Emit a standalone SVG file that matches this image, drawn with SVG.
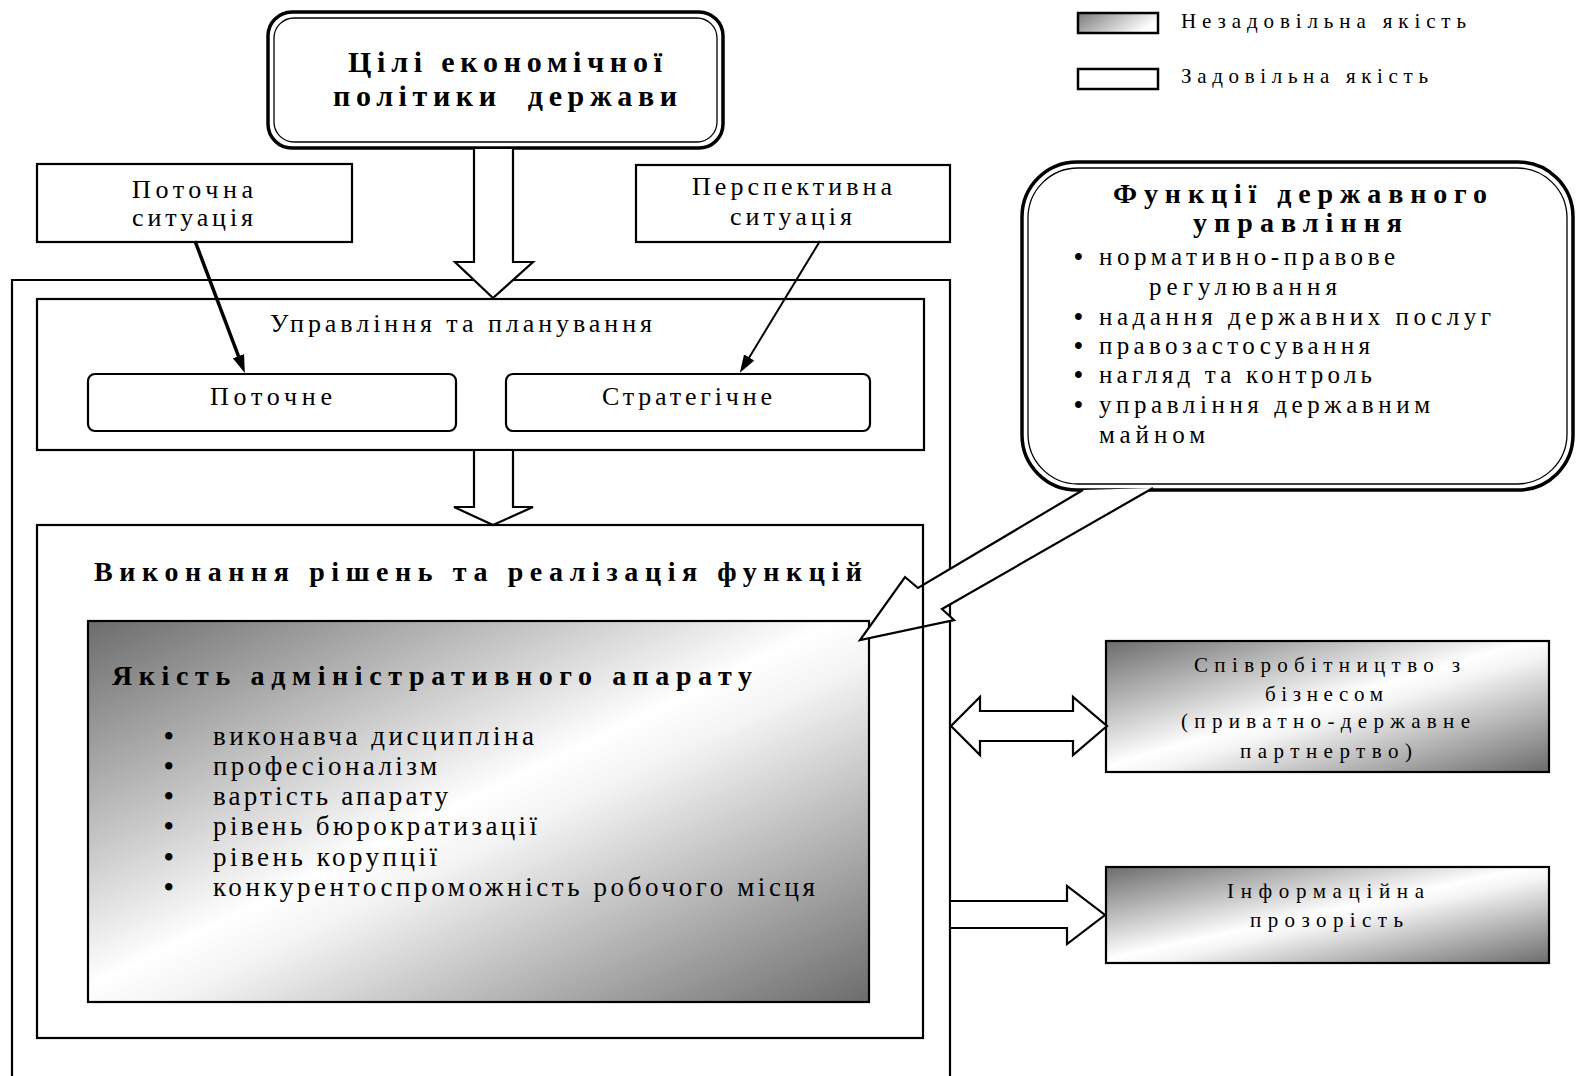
<svg xmlns="http://www.w3.org/2000/svg" width="1577" height="1076" viewBox="0 0 1577 1076">
<defs>
<style>
.t{font-family:"Liberation Serif","Times New Roman",serif;font-size:25px;fill:#000}
.b{font-weight:bold}
.s21{font-size:21px}
.s26{font-size:26px}
.s27{font-size:27px}
.s28{font-size:28px}
.s30{font-size:30px}
.bul{font-weight:bold}
.box{fill:#fff;stroke:#000;stroke-width:2.2}
.nofill{fill:none;stroke:#000;stroke-width:2.2}
.gbox{fill:url(#gq);stroke:#000;stroke-width:2.2}
.dblo{fill:#fff;stroke:#000;stroke-width:3.5}
.dbli{fill:none;stroke:#000;stroke-width:1.3}
.arr{fill:#fff;stroke:#000;stroke-width:2.2;stroke-linejoin:miter}
</style>
<linearGradient id="gq" x1="0" y1="0" x2="1" y2="1">
<stop offset="0" stop-color="#6c6c6c"/>
<stop offset="0.48" stop-color="#ffffff"/>
<stop offset="0.55" stop-color="#f4f4f4"/>
<stop offset="1" stop-color="#6c6c6c"/>
</linearGradient>
<linearGradient id="gl" x1="0" y1="0" x2="1" y2="0.4">
<stop offset="0" stop-color="#7a7a7a"/>
<stop offset="1" stop-color="#ffffff"/>
</linearGradient>
<marker id="ah" viewBox="0 0 18 12" refX="10" refY="6" markerWidth="18" markerHeight="12" markerUnits="userSpaceOnUse" orient="auto">
<path d="M0,0 L18,6 L0,12 Z" fill="#000"/>
</marker>
</defs>

<g id="legend">
<rect x="1078" y="13" width="80" height="20" fill="url(#gl)" stroke="#000" stroke-width="2.5"/>
<text class="t s21" x="1181" y="28" textLength="285" lengthAdjust="spacing">Незадовільна якість</text>
<rect x="1078" y="69" width="80" height="20" fill="#fff" stroke="#000" stroke-width="2.5"/>
<text class="t s21" x="1181" y="83" textLength="247" lengthAdjust="spacing">Задовільна якість</text>
</g>

<g id="outer-frame">
<path class="nofill" d="M12,1080 L12,280 L950,280 L950,1080"/>
</g>

<g id="management">
<rect class="box" x="37" y="299" width="887" height="151"/>
<text class="t s26" x="270" y="332" textLength="382" lengthAdjust="spacing">Управління та планування</text>
</g>

<g id="current">
<rect class="box" x="88" y="374" width="368" height="57" rx="7"/>
<text class="t s26" x="210" y="405" textLength="122" lengthAdjust="spacing">Поточне</text>
</g>

<g id="strategic">
<rect class="box" x="506" y="374" width="364" height="57" rx="7"/>
<text class="t s26" x="602" y="405" textLength="170" lengthAdjust="spacing">Стратегічне</text>
</g>

<g id="current-situation">
<rect class="box" x="37" y="164" width="315" height="78"/>
<text class="t s26" x="132" y="198" textLength="121" lengthAdjust="spacing">Поточна</text>
<text class="t s26" x="132" y="226" textLength="121" lengthAdjust="spacing">ситуація</text>
</g>

<g id="perspective-situation">
<rect class="box" x="636" y="165" width="314" height="77"/>
<text class="t s26" x="692" y="195" textLength="200" lengthAdjust="spacing">Перспективна</text>
<text class="t s26" x="730" y="225" textLength="122" lengthAdjust="spacing">ситуація</text>
</g>

<g id="goals">
<rect class="dblo" x="268" y="12" width="455" height="136" rx="24"/>
<rect class="dbli" x="274" y="18" width="443" height="124" rx="20"/>
<text class="t b s30" x="348" y="72" textLength="314" lengthAdjust="spacing">Цілі економічної</text>
<text class="t b s30" x="333" y="106" textLength="344" lengthAdjust="spacing" style="white-space:pre">політики  держави</text>
</g>

<g id="functions">
<rect class="dblo" x="1022" y="162" width="551" height="328" rx="55"/>
<rect class="dbli" x="1028" y="168" width="539" height="316" rx="50"/>
<text class="t b s28" x="1113" y="203" textLength="374" lengthAdjust="spacing">Функції державного</text>
<text class="t b s28" x="1193" y="232" textLength="209" lengthAdjust="spacing">управління</text>
<text class="t bul" x="1074" y="265">•</text>
<text class="t" x="1099" y="265" textLength="296" lengthAdjust="spacing">нормативно-правове</text>
<text class="t" x="1149" y="295" textLength="188" lengthAdjust="spacing">регулювання</text>
<text class="t bul" x="1074" y="325">•</text>
<text class="t" x="1099" y="325" textLength="392" lengthAdjust="spacing">надання державних послуг</text>
<text class="t bul" x="1074" y="354">•</text>
<text class="t" x="1099" y="354" textLength="271" lengthAdjust="spacing">правозастосування</text>
<text class="t bul" x="1074" y="383">•</text>
<text class="t" x="1099" y="383" textLength="273" lengthAdjust="spacing">нагляд та контроль</text>
<text class="t bul" x="1074" y="413">•</text>
<text class="t" x="1099" y="413" textLength="331" lengthAdjust="spacing">управління державним</text>
<text class="t" x="1099" y="443" textLength="106" lengthAdjust="spacing">майном</text>
</g>

<g id="quality">
<rect class="gbox" x="88" y="621" width="781" height="381"/>
<text class="t b s28" x="112" y="685" textLength="640" lengthAdjust="spacing">Якість адміністративного апарату</text>
<text class="t s27 bul" x="164" y="745">•</text>
<text class="t s27" x="213" y="745" textLength="321" lengthAdjust="spacing">виконавча дисципліна</text>
<text class="t s27 bul" x="164" y="775">•</text>
<text class="t s27" x="213" y="775" textLength="224" lengthAdjust="spacing">професіоналізм</text>
<text class="t s27 bul" x="164" y="805">•</text>
<text class="t s27" x="213" y="805" textLength="235" lengthAdjust="spacing">вартість апарату</text>
<text class="t s27 bul" x="164" y="835">•</text>
<text class="t s27" x="213" y="835" textLength="324" lengthAdjust="spacing">рівень бюрократизації</text>
<text class="t s27 bul" x="164" y="866">•</text>
<text class="t s27" x="213" y="866" textLength="224" lengthAdjust="spacing">рівень корупції</text>
<text class="t s27 bul" x="164" y="896">•</text>
<text class="t s27" x="213" y="896" textLength="602" lengthAdjust="spacing">конкурентоспроможність робочого місця</text>
</g>

<g id="cooperation">
<rect x="1106" y="641" width="443" height="131" fill="url(#gq)" stroke="#000" stroke-width="2.2"/>
<text class="t s21" x="1194" y="672" textLength="266" lengthAdjust="spacing">Співробітництво з</text>
<text class="t s21" x="1265" y="701" textLength="118" lengthAdjust="spacing">бізнесом</text>
<text class="t s21" x="1181" y="728" textLength="289" lengthAdjust="spacing">(приватно-державне</text>
<text class="t s21" x="1240" y="758" textLength="172" lengthAdjust="spacing">партнертво)</text>
</g>

<g id="transparency">
<rect x="1106" y="867" width="443" height="96" fill="url(#gq)" stroke="#000" stroke-width="2.2"/>
<text class="t s21" x="1227" y="898" textLength="197" lengthAdjust="spacing">Інформаційна</text>
<text class="t s21" x="1250" y="927" textLength="153" lengthAdjust="spacing">прозорість</text>
</g>

<g id="connectors">
<polygon class="arr" points="474,148 474,262 455,262 493,298 533,262 513,262 513,148"/>
<polygon class="arr" points="474,450 474,507 454,507 493,525 533,507 513,507 513,450"/>
<line x1="195" y1="241" x2="242" y2="365.5" stroke="#000" stroke-width="3.5" marker-end="url(#ah)"/>
<line x1="820" y1="241" x2="744" y2="366" stroke="#000" stroke-width="2" marker-end="url(#ah)"/>
<path class="arr" d="M1083,490 L918,588 L905,577 L860,640 L954,620 L942,609 L1153,488"/>
<polygon class="arr" points="951,726 980,697 980,711 1073,711 1073,697 1107,726 1073,755 1073,741 980,741 980,755"/>
<path class="arr" d="M951,901 L1067,901 L1067,886 L1105,915 L1067,944 L1067,928 L951,928"/>
</g>

<g id="execution">
<rect class="nofill" x="37" y="525" width="886" height="513"/>
<text class="t b s28" x="94" y="581" textLength="768" lengthAdjust="spacing">Виконання рішень та реалізація функцій</text>
</g>
</svg>
